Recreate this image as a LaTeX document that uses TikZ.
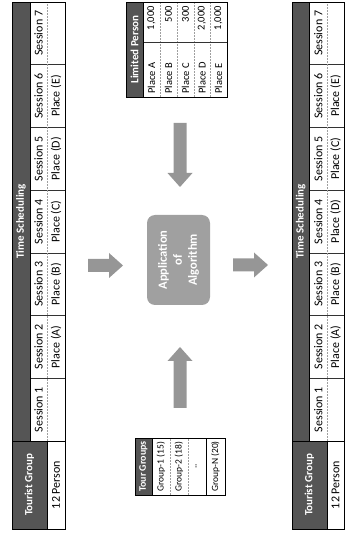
\documentclass[tikz,border=0pt]{standalone}
\usepackage{fontspec}
\setmainfont{Carlito}
\definecolor{hdrgray}{RGB}{85,85,85}
\definecolor{boxgray}{RGB}{160,160,160}
\definecolor{arrowgray}{RGB}{150,150,150}
\tikzset{
  hdrfill/.style={fill=hdrgray},
  hdrtxt/.style={text=white, font=\bfseries\fontsize{11}{12}\selectfont, inner sep=0pt},
  celltxt/.style={font=\fontsize{12}{13}\selectfont, inner sep=0pt},
  smalltxt/.style={font=\fontsize{10.5}{12}\selectfont, inner sep=0pt},
  grptxt/.style={font=\fontsize{9.5}{11}\selectfont, inner sep=0pt},
  gridline/.style={draw=gray!75, densely dotted, line width=0.5pt},
  sepline/.style={draw=black!80, line width=0.5pt},
  frameline/.style={draw=black, line width=0.9pt},
  blockarrow/.style={fill=arrowgray},
}
\begin{document}
\begin{tikzpicture}
\useasboundingbox (0,0) rectangle (345pt,542pt);
\begin{scope}[x=1pt,y=-1pt,rotate=90,transform shape]

% ---------- Top table (original schedule) ----------
\fill[hdrgray] (101,12) rectangle (540,30);
\fill[hdrgray] (13,12) rectangle (101,47);
\foreach \k in {1,...,6}{
  \pgfmathsetmacro{\uu}{101+\k*62.714}
  \draw[sepline] (\uu,30) -- (\uu,65);
}
\draw[gridline] (101,47) -- (540,47);
\draw[frameline] (101,30) -- (540,30);
\draw[frameline] (13,47) -- (101,47);
\draw[frameline] (101,12) -- (101,65);
\draw[frameline] (13,12) rectangle (540,65);
\node[hdrtxt] (tsTitle) at (320.5,21) {Time Scheduling};
\node[hdrtxt] (tgA) at (57,29.5) {Tourist Group};
\node[celltxt] (tpA) at (57,56) {12 Person};
\foreach \k in {1,...,7}{
  \pgfmathsetmacro{\uu}{101+(\k-0.5)*62.714}
  \node[celltxt] (sA\k) at (\uu,38.5) {Session \k};
}
\foreach \k/\p in {2/A,3/B,4/C,5/D,6/E}{
  \pgfmathsetmacro{\uu}{101+(\k-0.5)*62.714}
  \node[celltxt] (pA\k) at (\uu,56) {Place (\p)};
}

% ---------- Bottom table (result schedule) ----------
\fill[hdrgray] (101,292) rectangle (540,309.5);
\fill[hdrgray] (13,292) rectangle (101,327);
\foreach \k in {1,...,6}{
  \pgfmathsetmacro{\uu}{101+\k*62.714}
  \draw[sepline] (\uu,309.5) -- (\uu,344);
}
\draw[gridline] (101,327) -- (540,327);
\draw[frameline] (101,309.5) -- (540,309.5);
\draw[frameline] (13,327) -- (101,327);
\draw[frameline] (101,292) -- (101,344);
\draw[frameline] (13,292) rectangle (540,344);
\node[hdrtxt] (tsTitleB) at (320.5,300.75) {Time Scheduling};
\node[hdrtxt] (tgB) at (57,309.5) {Tourist Group};
\node[celltxt] (tpB) at (57,335.5) {12 Person};
\foreach \k in {1,...,7}{
  \pgfmathsetmacro{\uu}{101+(\k-0.5)*62.714}
  \node[celltxt] (sB\k) at (\uu,318.25) {Session \k};
}
\foreach \k/\p in {2/A,3/B,4/D,5/C,6/E}{
  \pgfmathsetmacro{\uu}{101+(\k-0.5)*62.714}
  \node[celltxt] (pB\k) at (\uu,335.5) {Place (\p)};
}

% ---------- Tour Groups table ----------
\fill[hdrgray] (47,135) rectangle (104,152);
\draw[gridline] (47,170) -- (104,170);
\draw[gridline] (47,188) -- (104,188);
\draw[frameline] (47,152) -- (104,152);
\draw[frameline] (47,206) -- (104,206);
\draw[frameline] (47,135) rectangle (104,225);
\node[hdrtxt, font=\bfseries\fontsize{10}{12}\selectfont] (tgHead) at (75.5,143.5) {Tour Groups};
\node[grptxt] (g1) at (75.5,161) {Group-1 (15)};
\node[grptxt] (g2) at (75.5,179) {Group-2 (18)};
\node[grptxt] (gd) at (75.5,196) {..};
\node[grptxt] (gn) at (75.5,215.5) {Group-N (20)};

% ---------- Limited Person table ----------
\fill[hdrgray] (445,126) rectangle (540,143);
\foreach \vv in {160,177,194,210}{
  \draw[gridline] (445,\vv) -- (540,\vv);
}
\draw[sepline] (500,143) -- (500,227);
\draw[frameline] (445,143) -- (540,143);
\draw[frameline] (445,126) rectangle (540,227);
\node[hdrtxt] (lpHead) at (492.5,134.5) {Limited Person};
\foreach \n/\val/\vv in {A/{1,000}/151.5, B/500/168.5, C/300/185.5, D/{2,000}/202, E/{1,000}/218.5}{
  \node[smalltxt, anchor=west] (lp\n) at (448,\vv) {Place \n};
  \node[smalltxt, anchor=east] (lv\n) at (536,\vv) {\val};
}

% ---------- Center box ----------
\node[fill=boxgray, rounded corners=8pt, minimum width=90pt, minimum height=63pt,
      inner sep=0pt, text=white, align=center,
      font=\bfseries\fontsize{12.5}{15}\selectfont] (algo) at (282,178.5)
      {Application\\of\\Algorithm};

% ---------- Block arrows ----------
% from top table down to centre
\fill[blockarrow] (270,88) -- (283,88) -- (283,109) -- (289,109) -- (276.5,123)
   -- (264,109) -- (270,109) -- cycle;
% from centre down to bottom table
\fill[blockarrow] (270.5,233) -- (283.5,233) -- (283.5,254) -- (289.5,254) -- (277,268)
   -- (264.5,254) -- (270.5,254) -- cycle;
% from Tour Groups right to centre
\fill[blockarrow] (134,173.5) -- (181,173.5) -- (181,167.5) -- (195,180) -- (181,192.5)
   -- (181,186.5) -- (134,186.5) -- cycle;
% from Limited Person left to centre
\fill[blockarrow] (419,173.5) -- (369,173.5) -- (369,167.5) -- (355,180) -- (369,192.5)
   -- (369,186.5) -- (419,186.5) -- cycle;

\end{scope}
\end{tikzpicture}
\end{document}
